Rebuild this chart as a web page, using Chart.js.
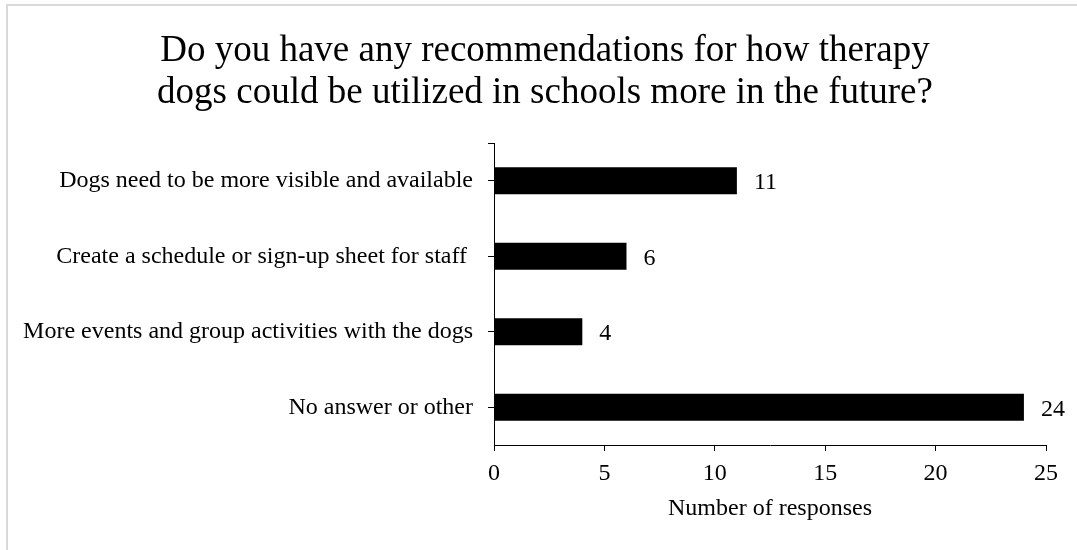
<!DOCTYPE html>
<html>
<head>
<meta charset="utf-8">
<script src="https://cdn.jsdelivr.net/npm/chart.js@4/dist/chart.umd.min.js"></script>
<style>
  html, body { margin: 0; padding: 0; background: #fff; overflow: hidden; }
  #frame { position: absolute; left: 6px; top: 4px; width: 1100px; height: 580px; border: 2px solid #d9d9d9; box-sizing: border-box; }
  #wrap { position: absolute; left: 0; top: 0; width: 1077px; height: 550px; }
</style>
</head>
<body>
<div id="frame"></div>
<div id="wrap"><canvas id="chart"></canvas></div>
<script>
/* Therapy dog recommendations — horizontal bar chart */

var SERIF = '"Liberation Serif", "Times New Roman", serif';

var CATEGORIES = [
  'Dogs need to be more visible and available',
  'Create a schedule or sign-up sheet for staff ',
  'More events and group activities with the dogs',
  'No answer or other'
];
var RESPONSES = [11, 6, 4, 24];
var X_MIN = 0, X_MAX = 25, X_STEP = 5;
var TITLE_LINES = [
  'Do you have any recommendations for how therapy',
  'dogs could be utilized in schools more in the future?'
];
var X_TITLE = 'Number of responses';

// two-line title, centred on the framed box rather than the plot
var titleBlock = {
  id: 'titleBlock',
  afterDraw: function(chart) {
    var ctx = chart.ctx;
    ctx.save();
    ctx.font = '37px ' + SERIF;
    ctx.fillStyle = '#000';
    ctx.textAlign = 'center';
    ctx.textBaseline = 'alphabetic';
    TITLE_LINES.forEach(function(line, i) {
      ctx.fillText(line, 545, 61 + i * 42);
    });
    ctx.restore();
  }
};

// value labels to the right of each bar
var valueLabels = {
  id: 'valueLabels',
  afterDatasetsDraw: function(chart) {
    var ctx = chart.ctx;
    var meta = chart.getDatasetMeta(0);
    ctx.save();
    ctx.font = '24px ' + SERIF;
    ctx.fillStyle = '#000';
    ctx.textAlign = 'left';
    ctx.textBaseline = 'middle';
    meta.data.forEach(function(bar, i) {
      ctx.fillText(String(RESPONSES[i]), bar.x + 17, bar.y + 2);
    });
    ctx.restore();
  }
};

// small tick closing the top of the category axis
var axisCap = {
  id: 'axisCap',
  afterDraw: function(chart) {
    var y = chart.scales.y;
    var ctx = chart.ctx;
    ctx.save();
    ctx.strokeStyle = '#000';
    ctx.lineWidth = 1;
    ctx.beginPath();
    ctx.moveTo(y.right - 6, Math.round(y.top) + 0.5);
    ctx.lineTo(y.right, Math.round(y.top) + 0.5);
    ctx.stroke();
    ctx.restore();
  }
};

new Chart(document.getElementById('chart'), {
  type: 'bar',
  data: {
    labels: CATEGORIES,
    datasets: [{
      data: RESPONSES,
      backgroundColor: '#000',
      borderWidth: 0,
      barPercentage: 0.36,
      categoryPercentage: 1
    }]
  },
  options: {
    indexAxis: 'y',
    responsive: true,
    maintainAspectRatio: false,
    animation: false,
    layout: { padding: { left: 16, right: 31, top: 143, bottom: 0 } },
    plugins: {
      legend: { display: false },
      tooltip: { enabled: false },
      title: { display: false }
    },
    scales: {
      x: {
        min: X_MIN,
        max: X_MAX,
        grid: { drawOnChartArea: false, tickLength: 6, color: '#000' },
        border: { color: '#000', width: 1 },
        ticks: { stepSize: X_STEP, color: '#000', padding: 8, font: { family: SERIF, size: 24 } },
        title: {
          display: true,
          text: X_TITLE,
          color: '#000',
          font: { family: SERIF, size: 24 },
          padding: { top: 0, bottom: 27 }
        },
        afterFit: function(scale) { scale.height = 105; }
      },
      y: {
        grid: { drawOnChartArea: false, offset: false, tickLength: 6, color: '#000' },
        border: { color: '#000', width: 1 },
        ticks: { color: '#000', padding: 15, font: { family: SERIF, size: 24 } },
        afterFit: function(scale) { scale.width = 478; }
      }
    }
  },
  plugins: [valueLabels, axisCap, titleBlock]
});
</script>
</body>
</html>
